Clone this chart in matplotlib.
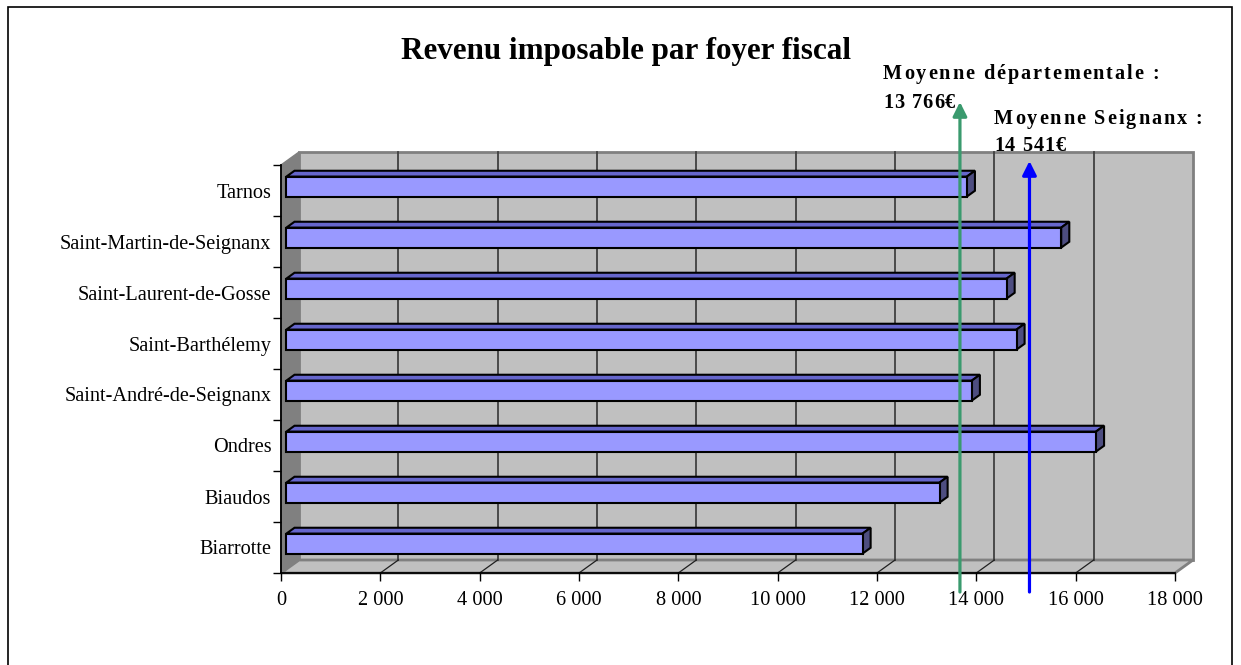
import matplotlib
matplotlib.use("Agg")
import matplotlib.pyplot as plt
from matplotlib.patches import Rectangle, Polygon

# data
communes = ["Biarrotte", "Biaudos", "Ondres", "Saint-André-de-Seignanx",
            "Saint-Barthélemy", "Saint-Laurent-de-Gosse",
            "Saint-Martin-de-Seignanx", "Tarnos"]
revenu = [11600, 13150, 16300, 13800, 14700, 14500, 15600, 13700]
x_ticks = list(range(0, 18001, 2000))
# the two arrows as placed on the picture (x value, label)
moyennes = [("Moyenne départementale :", "13 766€"), ("Moyenne Seignanx :", "14 541€")]
arrow_x = [13670, 15070]

W, H = 1241, 665
SERIF = "Liberation Serif"
plt.rcParams["font.family"] = [SERIF, "DejaVu Serif"]

fig = plt.figure(figsize=(W / 100, H / 100), dpi=100)
# front plane of the 3D box, in pixels
left, right, bottom, top = 281, 1175, 573, 165
ax = fig.add_axes([left / W, (H - bottom) / H, (right - left) / W, (bottom - top) / H])
ax.set_xlim(0, 18000)
ax.set_ylim(-0.5, len(communes) - 0.5)
ax.set_facecolor("none")

px_x = 18000 / (right - left)
px_y = len(communes) / (bottom - top)
DX, DY = 18 * px_x, 13 * px_y          # depth of the box
y0, y1 = -0.5, len(communes) - 0.5

# walls and floor
ax.add_patch(Rectangle((DX, y0 + DY), 18000, y1 - y0, fc="#C0C0C0", ec="#808080",
                       lw=2, zorder=0, clip_on=False))
ax.add_patch(Polygon([(0, y0), (DX, y0 + DY), (DX, y1 + DY), (0, y1)], closed=True,
                     fc="#808080", ec="#808080", lw=1, zorder=0.5, clip_on=False))
ax.add_patch(Polygon([(0, y0), (18000, y0), (18000 + DX, y0 + DY), (DX, y0 + DY)], closed=True,
                     fc="#C0C0C0", ec="#808080", lw=2, zorder=0.5, clip_on=False))
for t in x_ticks[1:-1]:
    ax.plot([t + DX, t + DX], [y0 + DY, y1 + DY], color="#404040", lw=1.3, zorder=0.6, clip_on=False)
    ax.plot([t, t + DX], [y0, y0 + DY], color="#202020", lw=0.9, zorder=0.6, clip_on=False)

# 3D bars
f1, f2 = 0.3, 0.75
bh = 20 * px_y
for i, v in enumerate(revenu):
    bx, by = f1 * DX, i + f1 * DY
    ddx, ddy = (f2 - f1) * DX, (f2 - f1) * DY
    lo, hi = by - bh / 2, by + bh / 2
    ax.add_patch(Polygon([(bx, hi), (bx + v, hi), (bx + v + ddx, hi + ddy), (bx + ddx, hi + ddy)],
                         closed=True, fc="#6666CC", ec="black", lw=1.5, zorder=2))
    ax.add_patch(Polygon([(bx + v, lo), (bx + v + ddx, lo + ddy), (bx + v + ddx, hi + ddy), (bx + v, hi)],
                         closed=True, fc="#4D4D80", ec="black", lw=1.5, zorder=2))
    ax.add_patch(Rectangle((bx, lo), v, bh, fc="#9999FF", ec="black", lw=1.5, zorder=2.1))

# axes
for s in ["top", "right"]:
    ax.spines[s].set_visible(False)
for s in ["left", "bottom"]:
    ax.spines[s].set_color("black")
    ax.spines[s].set_linewidth(1.3)
    ax.spines[s].set_zorder(1)
ax.set_xticks(x_ticks)
ax.set_xticklabels([f"{t:,}".replace(",", " ") for t in x_ticks])
ax.tick_params(axis="x", direction="out", length=6, width=1, pad=7, labelsize=14.7)
ax.set_yticks(range(len(communes)))
ax.set_yticklabels(communes)
ax.set_yticks([k - 0.5 for k in range(len(communes) + 1)], minor=True)
ax.tick_params(axis="y", which="major", length=0, pad=7, labelsize=14.6)
ax.tick_params(axis="y", which="minor", direction="out", length=6, width=1)

# mean arrows
colors = ["#3A9A6E", "#0000FF"]
tips = [102, 161]
ybot = y0 - (592 - bottom) * px_y
for xa, c, tp in zip(arrow_x, colors, tips):
    ytop = y1 + (top - tp) * px_y
    ax.annotate("", xy=(xa, ytop), xytext=(xa, ybot), annotation_clip=False,
                arrowprops=dict(arrowstyle="-|>", color=c, lw=2.3, mutation_scale=21,
                                shrinkA=0, shrinkB=0), zorder=5)

# title
fig.text(626 / W, 1 - 52 / H, "Revenu imposable par foyer fiscal", ha="center", va="center",
         fontsize=22.4, fontweight="bold", family=SERIF)

# letter-spaced annotation text
renderer = fig.canvas.get_renderer()


def spaced_text(x, y, s, size=14.6, gap=1.9):
    for ch in s:
        if ch == " ":
            a = fig.text(0, 0, "x x", fontsize=size, fontweight="bold", family=SERIF)
            b = fig.text(0, 0, "xx", fontsize=size, fontweight="bold", family=SERIF)
            w = a.get_window_extent(renderer).width - b.get_window_extent(renderer).width
            a.remove()
            b.remove()
        else:
            t = fig.text(x / W, 1 - y / H, ch, fontsize=size, fontweight="bold",
                         family=SERIF, va="baseline", ha="left")
            w = t.get_window_extent(renderer).width
        x += w + gap


spaced_text(883, 79, moyennes[0][0])
spaced_text(883, 108, moyennes[0][1], gap=1.0)
spaced_text(994, 124, moyennes[1][0])
spaced_text(994, 151, moyennes[1][1], gap=1.0)

# outer frame
fig.add_artist(Rectangle((8 / W, -0.05), (1232 - 8) / W, 1.05 - 7 / H, transform=fig.transFigure,
                         fill=False, ec="black", lw=1.2))

fig.savefig("out.png", dpi=100)
